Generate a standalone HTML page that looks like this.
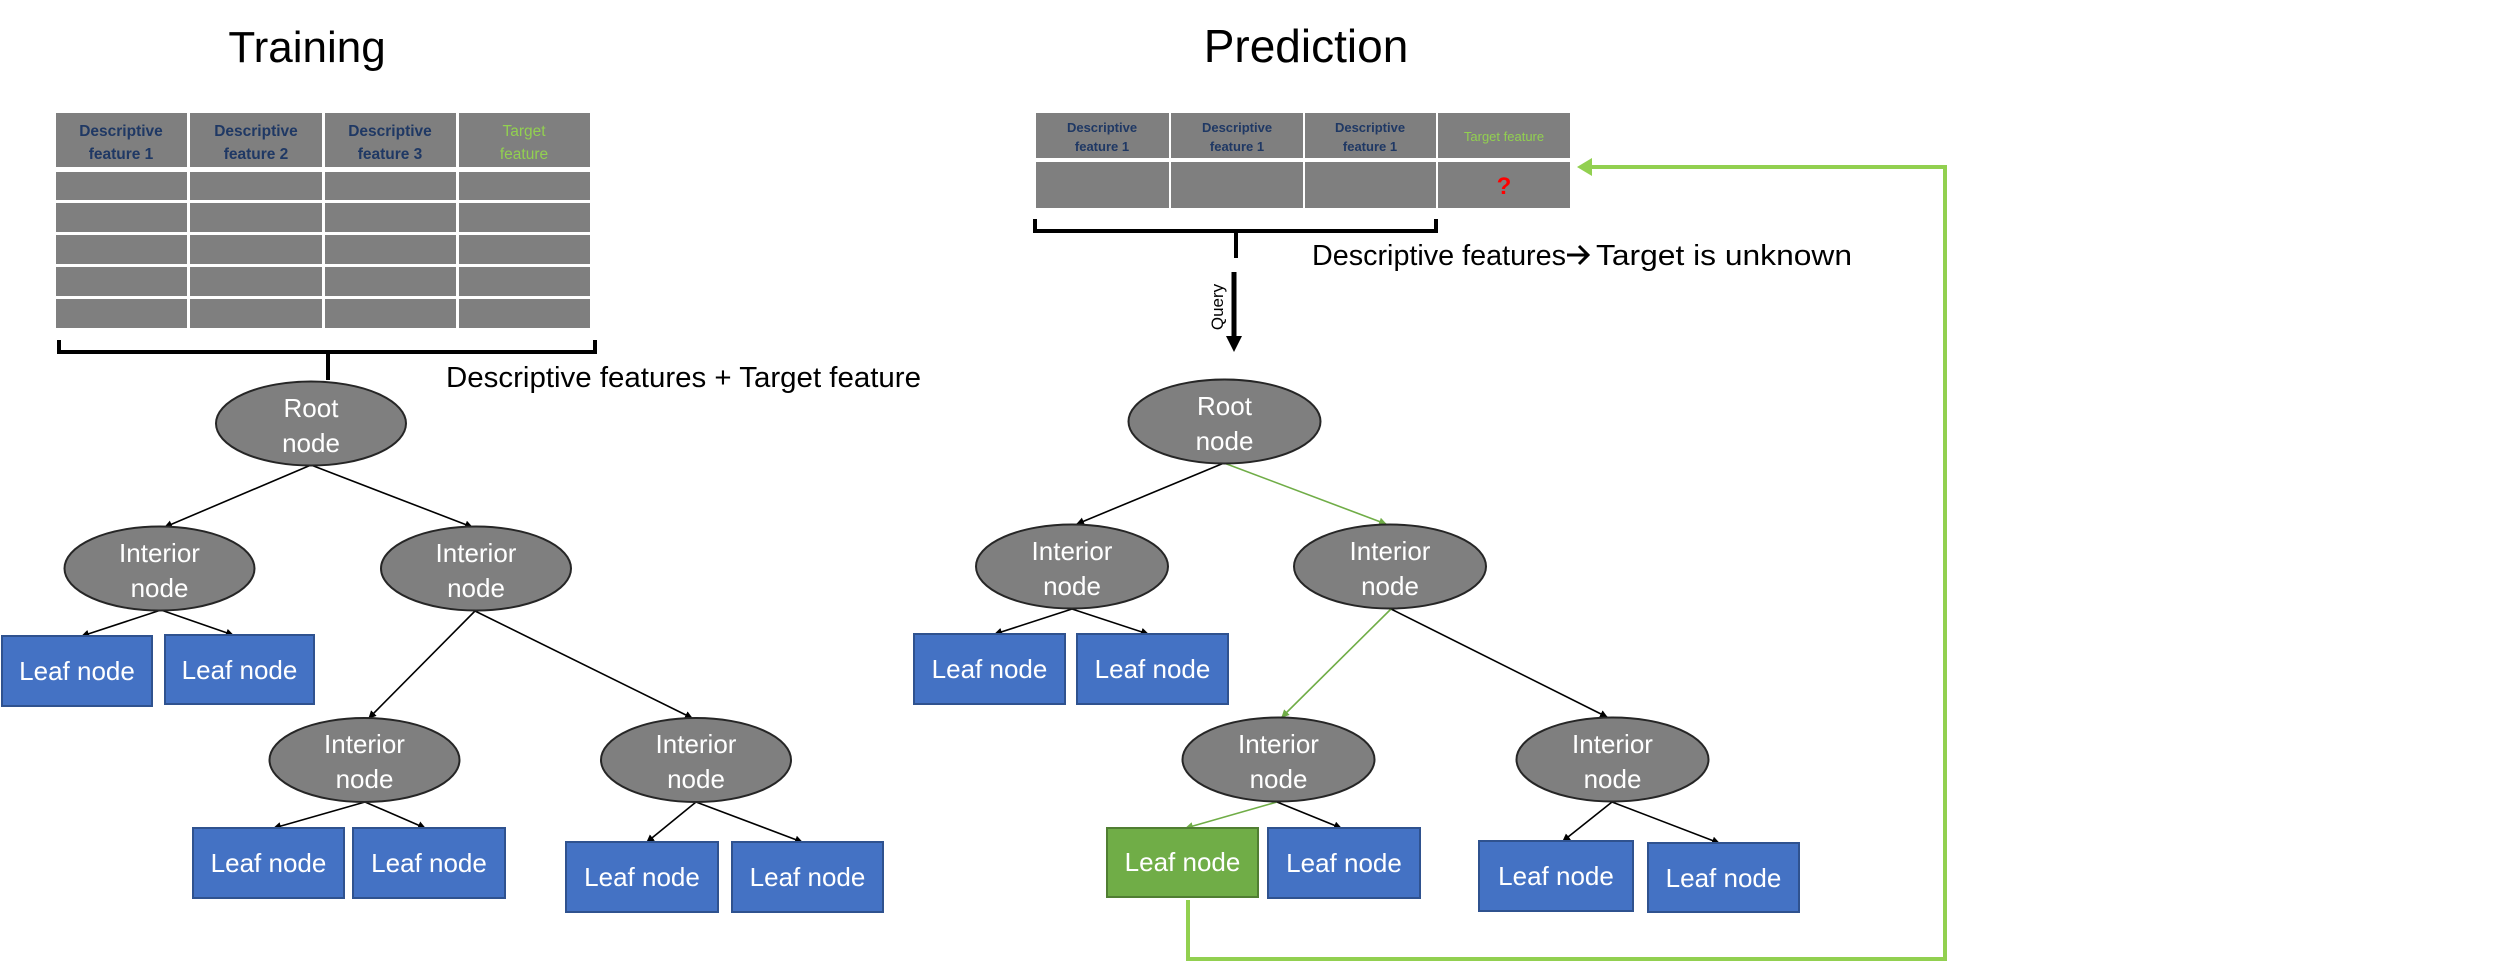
<!DOCTYPE html>
<html><head><meta charset="utf-8"><style>
html,body{margin:0;padding:0;background:#fff;}
svg{display:block;font-family:"Liberation Sans",sans-serif;}
</style></head><body>
<svg width="2518" height="962" viewBox="0 0 2518 962" xmlns="http://www.w3.org/2000/svg">
<defs>
<marker id="ab" markerWidth="8" markerHeight="8" refX="7" refY="4" orient="auto" markerUnits="userSpaceOnUse"><path d="M0,0 L8,4 L0,8 z" fill="#000"/></marker>
<marker id="ag" markerWidth="8" markerHeight="8" refX="7" refY="4" orient="auto" markerUnits="userSpaceOnUse"><path d="M0,0 L8,4 L0,8 z" fill="#70ad47"/></marker>
</defs>
<rect width="2518" height="962" fill="#fff"/>

<text x="307" y="62" font-size="44" text-anchor="middle" fill="#000">Training</text>
<text x="1306" y="62" font-size="46" text-anchor="middle" fill="#000">Prediction</text>

<g fill="#7f7f7f">
<rect x="56" y="113" width="131" height="54"/><rect x="190" y="113" width="132" height="54"/><rect x="325" y="113" width="131" height="54"/><rect x="459" y="113" width="131" height="54"/>
<rect x="56" y="172" width="131" height="28"/><rect x="190" y="172" width="132" height="28"/><rect x="325" y="172" width="131" height="28"/><rect x="459" y="172" width="131" height="28"/>
<rect x="56" y="203" width="131" height="29"/><rect x="190" y="203" width="132" height="29"/><rect x="325" y="203" width="131" height="29"/><rect x="459" y="203" width="131" height="29"/>
<rect x="56" y="235" width="131" height="29"/><rect x="190" y="235" width="132" height="29"/><rect x="325" y="235" width="131" height="29"/><rect x="459" y="235" width="131" height="29"/>
<rect x="56" y="267" width="131" height="29"/><rect x="190" y="267" width="132" height="29"/><rect x="325" y="267" width="131" height="29"/><rect x="459" y="267" width="131" height="29"/>
<rect x="56" y="299" width="131" height="29"/><rect x="190" y="299" width="132" height="29"/><rect x="325" y="299" width="131" height="29"/><rect x="459" y="299" width="131" height="29"/>
</g>
<g font-size="15.5" font-weight="bold" text-anchor="middle" fill="#1f3864">
<text x="121" y="136">Descriptive</text><text x="121" y="159">feature 1</text>
<text x="256" y="136">Descriptive</text><text x="256" y="159">feature 2</text>
<text x="390" y="136">Descriptive</text><text x="390" y="159">feature 3</text>
</g>
<g font-size="15.5" text-anchor="middle" fill="#92d050">
<text x="524" y="136">Target</text><text x="524" y="159">feature</text>
</g>
<path d="M59,340 V352 H595 V340 M328,352 V380" fill="none" stroke="#000" stroke-width="4"/>
<text x="446" y="387" font-size="29" textLength="475" lengthAdjust="spacingAndGlyphs" fill="#000">Descriptive features + Target feature</text>

<g fill="#7f7f7f">
<rect x="1036" y="113" width="133" height="45"/><rect x="1171" y="113" width="132" height="45"/><rect x="1305" y="113" width="131" height="45"/><rect x="1438" y="113" width="132" height="45"/>
<rect x="1036" y="162" width="133" height="46"/><rect x="1171" y="162" width="132" height="46"/><rect x="1305" y="162" width="131" height="46"/><rect x="1438" y="162" width="132" height="46"/>
</g>
<g font-size="13" font-weight="bold" text-anchor="middle" fill="#1f3864">
<text x="1102" y="132">Descriptive</text><text x="1102" y="151">feature 1</text>
<text x="1237" y="132">Descriptive</text><text x="1237" y="151">feature 1</text>
<text x="1370" y="132">Descriptive</text><text x="1370" y="151">feature 1</text>
</g>
<text x="1504" y="141" font-size="13" text-anchor="middle" fill="#92d050">Target feature</text>
<text x="1504" y="194" font-size="24" font-weight="bold" text-anchor="middle" fill="#ff0000">?</text>
<path d="M1035,219 V231 H1436 V219 M1236,231 V258" fill="none" stroke="#000" stroke-width="4"/>
<line x1="1234" y1="272" x2="1234" y2="338" stroke="#000" stroke-width="5"/>
<path d="M1226,336 L1242,336 L1234,352 z" fill="#000"/>
<text transform="translate(1223,307) rotate(-90)" font-size="17" text-anchor="middle" fill="#000">Query</text>
<text x="1312" y="265" font-size="29" textLength="254" lengthAdjust="spacingAndGlyphs" fill="#000">Descriptive features</text>
<path d="M1567,255 H1587 M1579,246 L1588,255 L1579,264" fill="none" stroke="#000" stroke-width="3"/>
<text x="1596" y="265" font-size="29" textLength="256" lengthAdjust="spacingAndGlyphs" fill="#000">Target is unknown</text>

<path d="M1188,900 V959 H1945 V167 H1584" fill="none" stroke="#92d050" stroke-width="4"/>
<path d="M1577,167 L1592,158 L1592,176 z" fill="#92d050"/>

<g stroke="#000" stroke-width="1.6" fill="none" marker-end="url(#ab)">
<line x1="311" y1="465" x2="165" y2="527"/>
<line x1="311" y1="465" x2="472" y2="527"/>
<line x1="161" y1="610" x2="82" y2="636"/>
<line x1="161" y1="610" x2="233" y2="635"/>
<line x1="475" y1="611" x2="369" y2="718"/>
<line x1="475" y1="611" x2="692" y2="718"/>
<line x1="365" y1="802" x2="274" y2="828"/>
<line x1="365" y1="802" x2="425" y2="828"/>
<line x1="696" y1="802" x2="647" y2="842"/>
<line x1="696" y1="802" x2="802" y2="842"/>
</g>
<g stroke="#000" stroke-width="1.6" fill="none" marker-end="url(#ab)">
<line x1="1224" y1="463" x2="1077" y2="524"/>
<line x1="1072" y1="609" x2="995" y2="634"/>
<line x1="1072" y1="609" x2="1148" y2="634"/>
<line x1="1391" y1="609" x2="1607" y2="717"/>
<line x1="1277" y1="802" x2="1341" y2="828"/>
<line x1="1612" y1="802" x2="1563" y2="841"/>
<line x1="1612" y1="802" x2="1719" y2="843"/>
</g>
<g stroke="#70ad47" stroke-width="1.6" fill="none" marker-end="url(#ag)">
<line x1="1224" y1="463" x2="1386" y2="524"/>
<line x1="1391" y1="609" x2="1282" y2="717"/>
<line x1="1277" y1="802" x2="1186" y2="828"/>
</g>

<g fill="#7f7f7f" stroke="#262626" stroke-width="2">
<ellipse cx="311" cy="423.5" rx="95" ry="42"/>
<ellipse cx="159.5" cy="568.5" rx="95" ry="42"/>
<ellipse cx="476" cy="568.5" rx="95" ry="42"/>
<ellipse cx="364.5" cy="760" rx="95" ry="42"/>
<ellipse cx="696" cy="760" rx="95" ry="42"/>
<ellipse cx="1224.5" cy="421.5" rx="96" ry="42"/>
<ellipse cx="1072" cy="566.5" rx="96" ry="42"/>
<ellipse cx="1390" cy="566.5" rx="96" ry="42"/>
<ellipse cx="1278.5" cy="759.5" rx="96" ry="42"/>
<ellipse cx="1612.5" cy="759.5" rx="96" ry="42"/>
</g>
<g font-size="26" fill="#fff" text-anchor="middle">
<text x="311" y="417">Root</text><text x="311" y="452">node</text>
<text x="1224.5" y="415">Root</text><text x="1224.5" y="450">node</text>
<text x="159.5" y="562">Interior</text><text x="159.5" y="597">node</text>
<text x="476" y="562">Interior</text><text x="476" y="597">node</text>
<text x="364.5" y="753">Interior</text><text x="364.5" y="788">node</text>
<text x="696" y="753">Interior</text><text x="696" y="788">node</text>
<text x="1072" y="560">Interior</text><text x="1072" y="595">node</text>
<text x="1390" y="560">Interior</text><text x="1390" y="595">node</text>
<text x="1278.5" y="753">Interior</text><text x="1278.5" y="788">node</text>
<text x="1612.5" y="753">Interior</text><text x="1612.5" y="788">node</text>
</g>

<g fill="#4472c4" stroke="#2f528f" stroke-width="2">
<rect x="2" y="636" width="150" height="70"/>
<rect x="165" y="635" width="149" height="69"/>
<rect x="193" y="828" width="151" height="70"/>
<rect x="353" y="828" width="152" height="70"/>
<rect x="566" y="842" width="152" height="70"/>
<rect x="732" y="842" width="151" height="70"/>
<rect x="914" y="634" width="151" height="70"/>
<rect x="1077" y="634" width="151" height="70"/>
<rect x="1268" y="828" width="152" height="70"/>
<rect x="1479" y="841" width="154" height="70"/>
<rect x="1648" y="843" width="151" height="69"/>
</g>
<rect x="1107" y="828" width="151" height="69" fill="#70ad47" stroke="#507e32" stroke-width="2"/>
<g font-size="26" fill="#fff" text-anchor="middle">
<text x="77" y="680">Leaf node</text>
<text x="239.5" y="679">Leaf node</text>
<text x="268.5" y="872">Leaf node</text>
<text x="429" y="872">Leaf node</text>
<text x="642" y="886">Leaf node</text>
<text x="807.5" y="886">Leaf node</text>
<text x="989.5" y="678">Leaf node</text>
<text x="1152.5" y="678">Leaf node</text>
<text x="1182.5" y="871">Leaf node</text>
<text x="1344" y="872">Leaf node</text>
<text x="1556" y="885">Leaf node</text>
<text x="1723.5" y="887">Leaf node</text>
</g>
</svg>
</body></html>
